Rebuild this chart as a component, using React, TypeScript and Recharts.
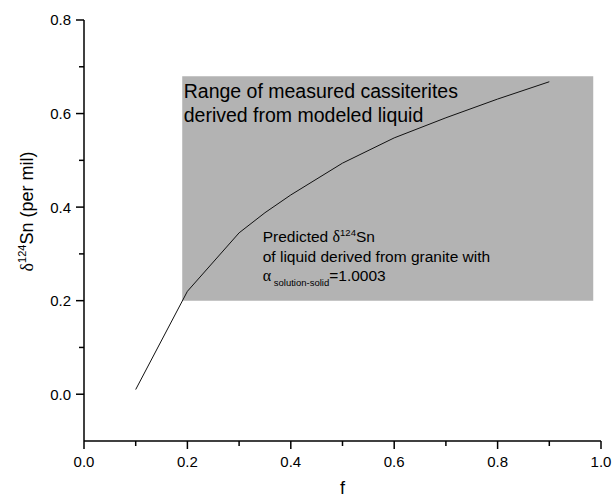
import React from 'react'
import { ComposedChart, Line, XAxis, YAxis, ReferenceArea } from 'recharts'

// f = fraction of liquid remaining, delta = predicted δ124Sn of liquid (per mil)
const F_VALUES = [0.1, 0.2, 0.3, 0.35, 0.4, 0.5, 0.6, 0.7, 0.8, 0.9]
const DELTA_124SN = [0.01, 0.22, 0.345, 0.388, 0.426, 0.494, 0.548, 0.591, 0.631, 0.668]

// range of measured cassiterites
const RANGE_F = [0.19, 0.985]
const RANGE_DELTA = [0.2, 0.68]

const X_TICKS = [0, 0.1, 0.2, 0.3, 0.4, 0.5, 0.6, 0.7, 0.8, 0.9, 1.0]
const Y_TICKS = [0, 0.1, 0.2, 0.3, 0.4, 0.5, 0.6, 0.7, 0.8]

const SANS = '"Liberation Sans", Arial, sans-serif'
const SERIF = '"Liberation Serif", "Times New Roman", serif'

const chartData = F_VALUES.map((f, i) => ({ f, delta: DELTA_124SN[i] }))

const isMajor = (v: number) => Math.round(v * 10) % 2 === 0

const XTick = (props: any) => {
  const { x, y, payload } = props
  const major = isMajor(payload.value)
  return (
    <g>
      <line x1={x} x2={x} y1={y} y2={y + (major ? 8 : 5)} stroke="#000" strokeWidth={1.5} />
      {major && (
        <text x={x} y={y + 26} textAnchor="middle" fontSize={15} fontFamily={SANS} fill="#000">
          {payload.value.toFixed(1)}
        </text>
      )}
    </g>
  )
}

const YTick = (props: any) => {
  const { x, y, payload } = props
  const major = isMajor(payload.value)
  return (
    <g>
      <line x1={x} x2={x - (major ? 8 : 5)} y1={y} y2={y} stroke="#000" strokeWidth={1.5} />
      {major && (
        <text x={x - 13} y={y} dy="0.36em" textAnchor="end" fontSize={15} fontFamily={SANS} fill="#000">
          {payload.value.toFixed(1)}
        </text>
      )}
    </g>
  )
}

const XLabel = (props: any) => {
  const vb = props.viewBox
  return (
    <text x={vb.x + vb.width / 2} y={vb.y + 53} textAnchor="middle" fontSize={18} fontFamily={SANS} fill="#000">
      f
    </text>
  )
}

const YLabel = (props: any) => {
  const vb = props.viewBox
  const cx = 33
  const cy = vb.y + vb.height / 2 - 19
  return (
    <text
      x={cx}
      y={cy}
      textAnchor="middle"
      transform={`rotate(-90, ${cx}, ${cy})`}
      fontSize={18}
      fontFamily={SANS}
      fill="#000"
    >
      <tspan fontFamily={SERIF}>δ</tspan>
      <tspan fontSize={11} dy={-7}>124</tspan>
      <tspan dy={7}>Sn (per mil)</tspan>
    </text>
  )
}

const RangeLabel = (props: any) => {
  const vb = props.viewBox
  const px = vb.x + 80.5
  const py = vb.y + 165.5
  return (
    <g fontFamily={SANS} fill="#000">
      <text x={vb.x + 1.5} y={vb.y + 22} fontSize={19.5}>Range of measured cassiterites</text>
      <text x={vb.x + 1.5} y={vb.y + 45.5} fontSize={19.5}>derived from modeled liquid</text>
      <text x={px} y={py} fontSize={15.5}>
        Predicted{' '}
        <tspan fontFamily={SERIF} fontSize={16}>δ</tspan>
        <tspan fontSize={9.5} dy={-6}>124</tspan>
        <tspan dy={6}>Sn</tspan>
      </text>
      <text x={px} y={py + 20} fontSize={15.5}>of liquid derived from granite with</text>
      <text x={px} y={py + 39.5} fontSize={15.5}>
        <tspan fontFamily={SERIF} fontSize={16}>α</tspan>
        <tspan fontSize={9.5} dy={5}> solution-solid</tspan>
        <tspan dy={-5}>=1.0003</tspan>
      </text>
    </g>
  )
}

export default function App() {
  return (
    <div style={{ position: 'absolute', left: 0, top: 0, background: '#fff' }}>
      <ComposedChart
        width={613}
        height={498}
        data={chartData}
        margin={{ top: 20, right: 12, bottom: 27, left: 24 }}
        style={{ fontFamily: SANS }}
      >
        <ReferenceArea
          x1={RANGE_F[0]}
          x2={RANGE_F[1]}
          y1={RANGE_DELTA[0]}
          y2={RANGE_DELTA[1]}
          fill="#b3b3b3"
          fillOpacity={1}
          stroke="none"
          ifOverflow="visible"
          label={<RangeLabel />}
        />
        <XAxis
          dataKey="f"
          type="number"
          domain={[0, 1]}
          ticks={X_TICKS}
          interval={0}
          height={30}
          tickSize={0}
          tickMargin={0}
          tickLine={false}
          tick={<XTick />}
          axisLine={{ stroke: '#000', strokeWidth: 1.5 }}
          label={<XLabel />}
        />
        <YAxis
          type="number"
          domain={[-0.1, 0.8]}
          ticks={Y_TICKS}
          interval={0}
          width={60}
          tickSize={0}
          tickMargin={0}
          tickLine={false}
          tick={<YTick />}
          axisLine={{ stroke: '#000', strokeWidth: 1.5 }}
          label={<YLabel />}
        />
        <Line
          dataKey="delta"
          type="linear"
          stroke="#111"
          strokeWidth={1}
          dot={false}
          activeDot={false}
          isAnimationActive={false}
        />
      </ComposedChart>
    </div>
  )
}
